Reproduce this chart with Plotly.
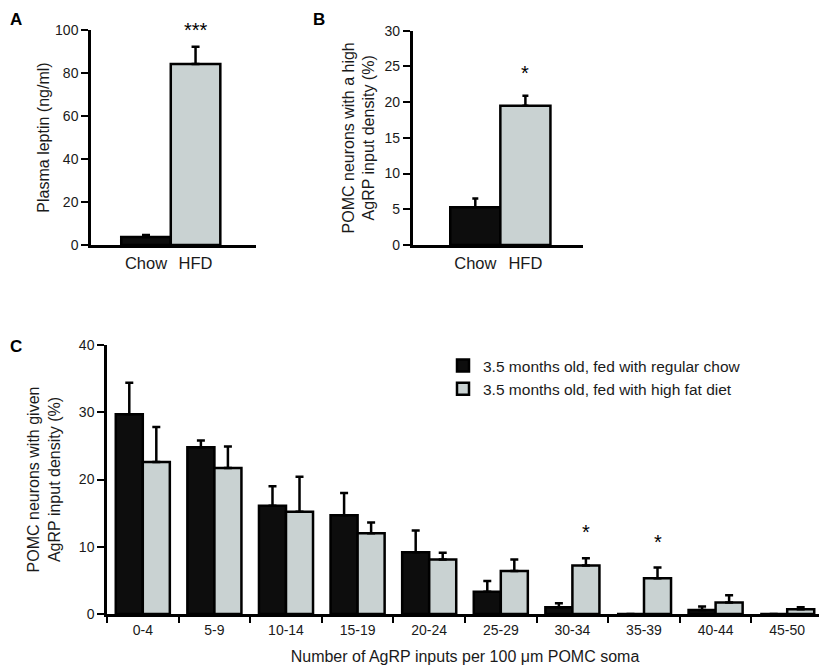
import plotly.graph_objects as go

# page body has an 8px default margin; figure fills the rest of the 827x668 window
OFF = 8
W, H = 827 - OFF, 668 - OFF

# ---- data ----
diet_groups = ["Chow", "HFD"]
leptin_mean = [3.7, 84.2]
leptin_err = [1.0, 8.0]

high_density_mean = [5.3, 19.5]
high_density_err = [1.2, 1.4]

bins = ["0-4", "5-9", "10-14", "15-19", "20-24", "25-29", "30-34", "35-39", "40-44", "45-50"]
chow_pct = [29.7, 24.8, 16.1, 14.7, 9.2, 3.3, 1.0, 0.0, 0.6, 0.0]
chow_err = [4.7, 1.0, 2.9, 3.3, 3.2, 1.6, 0.6, 0.0, 0.5, 0.0]
hfd_pct = [22.6, 21.7, 15.2, 12.0, 8.1, 6.4, 7.2, 5.3, 1.7, 0.7]
hfd_err = [5.2, 3.2, 5.2, 1.6, 1.0, 1.7, 1.1, 1.6, 1.1, 0.3]
sig_bins = ["30-34", "35-39"]

legend_names = ["3.5 months old, fed with regular chow", "3.5 months old, fed with high fat diet"]

BLACK = "#0d0d0d"
GRAY = "#c9d2d2"
FONT = "Liberation Sans, Arial, sans-serif"
TXT = "#1a1a1a"


def fx(a):
    return (a - OFF) / W


def fy(a):
    return 1 - (a - OFF) / H


def px_x(a, b):
    return [fx(a), fx(b)]


def px_y(top, bottom):
    return [fy(bottom), fy(top)]


fig = go.Figure()

# Panel A
fig.add_trace(go.Bar(
    x=diet_groups, y=leptin_mean, width=1,
    marker=dict(color=[BLACK, GRAY], line=dict(color="#000", width=2.5)),
    error_y=dict(type="data", symmetric=False, array=leptin_err, arrayminus=[0, 0],
                 color="#000", thickness=2.5, width=4),
    showlegend=False, xaxis="x", yaxis="y", hoverinfo="skip"))

# Panel B
fig.add_trace(go.Bar(
    x=diet_groups, y=high_density_mean, width=1,
    marker=dict(color=[BLACK, GRAY], line=dict(color="#000", width=2.5)),
    error_y=dict(type="data", symmetric=False, array=high_density_err, arrayminus=[0, 0],
                 color="#000", thickness=2.5, width=3),
    showlegend=False, xaxis="x2", yaxis="y2", hoverinfo="skip"))

# Panel C
fig.add_trace(go.Bar(
    x=bins, y=chow_pct, name=legend_names[0],
    marker=dict(color=BLACK, line=dict(color="#000", width=2.5)),
    error_y=dict(type="data", symmetric=False, array=chow_err, arrayminus=[0] * len(bins),
                 color="#000", thickness=2.5, width=4),
    xaxis="x3", yaxis="y3", hoverinfo="skip"))
fig.add_trace(go.Bar(
    x=bins, y=hfd_pct, name=legend_names[1],
    marker=dict(color=GRAY, line=dict(color="#000", width=2.5)),
    error_y=dict(type="data", symmetric=False, array=hfd_err, arrayminus=[0] * len(bins),
                 color="#000", thickness=2.5, width=4),
    xaxis="x3", yaxis="y3", hoverinfo="skip"))

axis_common = dict(showline=True, linecolor="#000", linewidth=2.5, showgrid=False, zeroline=False,
                   tickfont=dict(family=FONT, size=14, color=TXT), fixedrange=True, automargin=False)

yaxis_common = dict(axis_common, ticks="outside", ticklen=7, tickwidth=2, tickcolor="#000")

TITLE_FONT = dict(family=FONT, size=16, color=TXT)
CAT_FONT = dict(family=FONT, size=16.5, color=TXT)

layout = dict(
    width=W, height=H,
    margin=dict(l=0, r=0, t=0, b=0, autoexpand=False),
    paper_bgcolor="white", plot_bgcolor="white",
    barmode="group", bargap=0.245, bargroupgap=0,
    font=dict(family=FONT, size=14, color=TXT),
    xaxis=dict(axis_common, domain=px_x(91, 256), range=[-1.11, 2.22], ticks="",
               anchor="y", ticklabelstandoff=1, tickfont=CAT_FONT),
    yaxis=dict(yaxis_common, domain=px_y(30, 245), range=[0, 100], dtick=20, anchor="x",
               title=dict(text="Plasma leptin (ng/ml)", font=TITLE_FONT, standoff=2)),
    xaxis2=dict(axis_common, domain=px_x(412.7, 583), range=[-1.25, 2.15], ticks="",
                anchor="y2", ticklabelstandoff=1, tickfont=CAT_FONT),
    yaxis2=dict(yaxis_common, domain=px_y(30.7, 245), range=[0, 30], dtick=5, anchor="x2",
                title=dict(text="POMC neurons with a high<br>AgRP input density (%)",
                           font=TITLE_FONT, standoff=6)),
    xaxis3=dict(axis_common, domain=px_x(107, 823), range=[-0.5, 9.5], anchor="y3",
                ticks="outside", tickson="boundaries", ticklen=6, tickwidth=2, tickcolor="#000",
                ticklabelstandoff=1,
                title=dict(text="Number of AgRP inputs per 100 μm POMC soma",
                           font=TITLE_FONT, standoff=15)),
    yaxis3=dict(yaxis_common, domain=px_y(345, 614), range=[0, 40], dtick=10, anchor="x3",
                title=dict(text="POMC neurons with given<br>AgRP input density (%)",
                           font=TITLE_FONT, standoff=15)),
    legend=dict(x=fx(443), y=fy(349), xanchor="left", yanchor="top",
                font=dict(family=FONT, size=15.5, color=TXT), bgcolor="rgba(0,0,0,0)",
                tracegroupgap=0, itemclick=False, itemdoubleclick=False),
)
fig.update_layout(**layout)

annotations = []
# panel letters
for letter, xp, yp in [("A", 8, 8), ("B", 311, 8), ("C", 8, 335)]:
    annotations.append(dict(text="<b>%s</b>" % letter, x=fx(xp), y=fy(yp), xref="paper", yref="paper",
                            xanchor="left", yanchor="top", showarrow=False,
                            font=dict(family=FONT, size=17, color="#000")))

# significance stars
STAR = dict(family=FONT, size=20, color="#000")
annotations.append(dict(text="***", x=diet_groups[1], y=leptin_mean[1] + leptin_err[1], xref="x", yref="y",
                        yanchor="middle", yshift=17, showarrow=False, font=STAR))
annotations.append(dict(text="*", x=diet_groups[1], y=high_density_mean[1] + high_density_err[1], xref="x2",
                        yref="y2", yanchor="middle", yshift=23, showarrow=False, font=STAR))
for b in sig_bins:
    i = bins.index(b)
    annotations.append(dict(text="*", x=i + 0.19, y=hfd_pct[i] + hfd_err[i], xref="x3", yref="y3",
                            yanchor="middle", yshift=26, showarrow=False, font=STAR))
fig.update_layout(annotations=annotations)

fig.write_html("out.html")
